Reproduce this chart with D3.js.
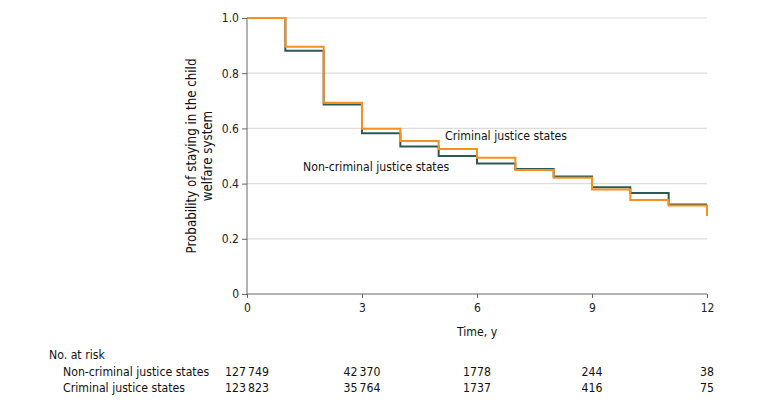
<!DOCTYPE html>
<html>
<head>
<meta charset="utf-8">
<script src="https://cdn.jsdelivr.net/npm/d3@7"></script>
<style>
  body { margin: 0; background: #fff; }
  .lbl { font-family: "DejaVu Sans Condensed", "Liberation Sans Narrow", sans-serif; font-size: 12.2px; fill: #111; }
  .ytitle { font-size: 13.2px; }
  .tick text { font-family: "DejaVu Sans Condensed", "DejaVu Sans", sans-serif; font-size: 12px; fill: #222; }
</style>
</head>
<body>
<div id="chart"></div>
<script>
// follow-up years
var years = [0, 1, 2, 3, 4, 5, 6, 7, 8, 9, 10, 11, 12];
// survival estimates
var nonCriminal = [1.0, 0.881, 0.687, 0.582, 0.534, 0.500, 0.473, 0.453, 0.426, 0.387, 0.366, 0.324, 0.324];
var criminal    = [1.0, 0.896, 0.693, 0.599, 0.554, 0.525, 0.494, 0.449, 0.421, 0.379, 0.341, 0.321, 0.283];

var xTicks = [0, 3, 6, 9, 12];
var yTicks = [0, 0.2, 0.4, 0.6, 0.8, 1.0];

var riskRows = ["Non-criminal justice states", "Criminal justice states"];
var riskNonCriminal = ["127\u2009749", "42\u2009370", "1778", "244", "38"];
var riskCriminal    = ["123\u2009823", "35\u2009764", "1737", "416", "75"];

var margin = {top: 18, left: 247},
    width = 460, height = 276;

var svg = d3.select("#chart").append("svg")
    .attr("width", 780)
    .attr("height", 405);

var g = svg.append("g")
    .attr("transform", "translate(" + margin.left + "," + margin.top + ")");

var x = d3.scaleLinear().domain([0, 12]).range([0, width]);
var y = d3.scaleLinear().domain([0, 1]).range([height, 0]);

// grid
g.selectAll(".grid")
    .data(yTicks.filter(function(d) { return d > 0; }))
  .enter().append("line")
    .attr("class", "grid")
    .attr("x1", 0).attr("x2", width)
    .attr("y1", function(d) { return y(d); })
    .attr("y2", function(d) { return y(d); })
    .attr("stroke", "#dcdcdc")
    .attr("stroke-width", 1.2);

var yAxis = g.append("g")
    .call(d3.axisLeft(y).tickValues(yTicks).tickSize(5).tickPadding(3)
      .tickFormat(function(d) { return d === 0 ? "0" : d3.format(".1f")(d); }));
var xAxis = g.append("g")
    .attr("transform", "translate(0," + height + ")")
    .call(d3.axisBottom(x).tickValues(xTicks).tickSize(4).tickPadding(5));

[yAxis, xAxis].forEach(function(a) {
  a.select(".domain").attr("stroke", "#666");
  a.selectAll(".tick line").attr("stroke", "#666");
});
yAxis.select(".domain").attr("d", "M0," + height + "V0");
xAxis.select(".domain").attr("d", "M0,0H" + width);

var line = d3.line()
    .curve(d3.curveStepAfter)
    .x(function(d, i) { return x(years[i]); })
    .y(function(d) { return y(d); });

g.append("path")
    .datum(nonCriminal)
    .attr("fill", "none")
    .attr("stroke", "#2d5954")
    .attr("stroke-width", 2)
    .attr("d", line);

// criminal curve, with the drop at the end of follow-up
var critPath = line(criminal.slice(0, 12).concat([criminal[11]])) +
    "V" + y(criminal[12]);
g.append("path")
    .attr("fill", "none")
    .attr("stroke", "#f7901e")
    .attr("stroke-width", 2)
    .attr("d", critPath);

g.append("text").attr("class", "lbl")
    .attr("x", 198).attr("y", 122)
    .text("Criminal justice states");
g.append("text").attr("class", "lbl")
    .attr("x", 56).attr("y", 153)
    .text("Non-criminal justice states");

// y title
var yt = svg.append("text").attr("class", "lbl ytitle")
    .attr("transform", "translate(0," + (margin.top + height / 2) + ") rotate(-90)")
    .attr("text-anchor", "middle");
yt.append("tspan").attr("x", 0).attr("y", 196).text("Probability of staying in the child");
yt.append("tspan").attr("x", 0).attr("y", 212).text("welfare system");

svg.append("text").attr("class", "lbl")
    .attr("x", margin.left + width / 2).attr("y", 336)
    .attr("text-anchor", "middle")
    .text("Time, y");

// number at risk table
svg.append("text").attr("class", "lbl")
    .attr("x", 49).attr("y", 359)
    .text("No. at risk");

[riskNonCriminal, riskCriminal].forEach(function(row, r) {
  var yy = 376 + r * 15.5;
  svg.append("text").attr("class", "lbl")
      .attr("x", 63).attr("y", yy)
      .text(riskRows[r]);
  svg.selectAll(".risk" + r)
      .data(row)
    .enter().append("text")
      .attr("class", "lbl risk" + r)
      .attr("x", function(d, i) { return margin.left + x(xTicks[i]); })
      .attr("y", yy)
      .attr("text-anchor", "middle")
      .text(function(d) { return d; });
});
</script>
</body>
</html>
